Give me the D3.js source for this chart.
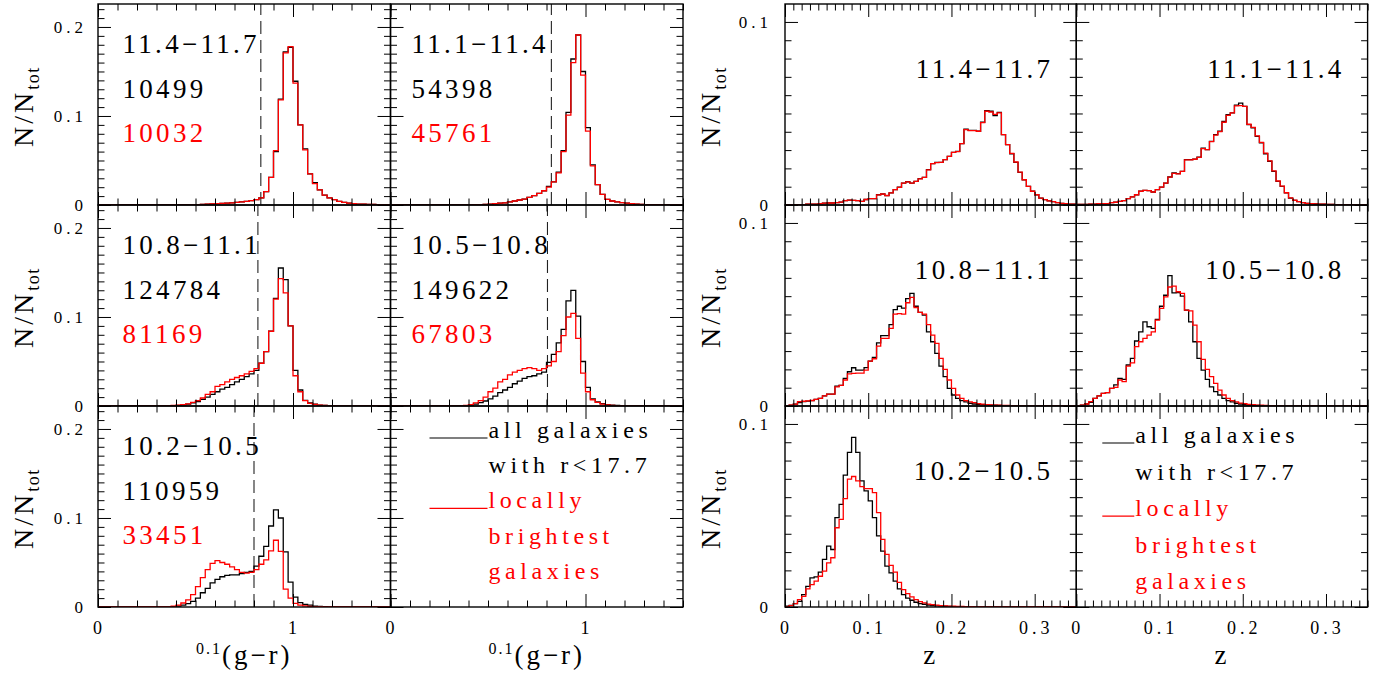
<!DOCTYPE html>
<html>
<head>
<meta charset="utf-8">
<script src="https://cdn.jsdelivr.net/npm/d3@7"></script>
<style>
  body { margin: 0; background: #fff; }
  svg text { font-family: 'Liberation Serif', 'DejaVu Serif', serif; fill: #000; }
</style>
</head>
<body>
<svg id="chart" width="1383" height="684" font-family="'Liberation Serif', 'DejaVu Serif', serif"></svg>
<script>
// mass bins (log M*) and galaxy counts per panel
const massBins = ["11.4\u221211.7", "11.1\u221211.4", "10.8\u221211.1", "10.5\u221210.8", "10.2\u221210.5"];
const nAll = [10499, 54398, 124784, 149622, 110959];
const nLBG = [10032, 45761, 81169, 67803, 33451];
// red/blue colour cut drawn as dashed line
const colourCut = [0.835, 0.825, 0.82, 0.805, 0.80];

// 0.1(g-r) histograms, bins of 0.025 from 0 to 1.5
const grBinWidth = 0.025;
const grAll = [
  [0,0,0,0,0,0,0,0,0,0, 0,0,0,0,0,0,0,0,0,0, 0.0005,0.0008,0.001,0.0012,0.0015,0.0018,0.002,0.0025,0.003,0.0035,
   0.004,0.005,0.006,0.008,0.015,0.031,0.060,0.119,0.172,0.177, 0.139,0.090,0.063,0.035,0.025,0.017,0.011,0.008,0.006,0.004,
   0.003,0.002,0.0015,0.001,0.001,0.0008,0.0006,0.0005,0.0004,0.0003],
  [0,0,0,0,0,0,0,0,0,0, 0,0,0,0,0,0,0,0.0003,0.0005,0.0007, 0.001,0.0015,0.002,0.0025,0.0034,0.0045,0.0056,0.0066,0.0085,0.0105,
   0.013,0.016,0.021,0.026,0.037,0.061,0.104,0.164,0.191,0.150, 0.087,0.045,0.023,0.012,0.0064,0.0045,0.0034,0.0026,0.002,0.0015,
   0.001,0.0007,0.0005,0.0004,0.0003,0.0003,0.0002,0.0002,0.0001,0.0001],
  [0,0,0,0,0,0,0,0,0,0, 0,0,0,0,0.0002,0.0004,0.0007,0.0012,0.002,0.0035, 0.005,0.0075,0.010,0.013,0.016,0.019,0.021,0.024,0.027,0.030,
   0.033,0.036,0.040,0.048,0.061,0.084,0.121,0.155,0.142,0.090, 0.040,0.018,0.0064,0.0034,0.002,0.001,0.0006,0.0004,0.0003,0.0002,
   0.0002,0.0001,0.0001,0.0001,0,0,0,0,0,0],
  [0,0,0,0,0,0,0,0,0,0, 0,0,0,0,0,0.0005,0.001,0.002,0.0037,0.0056, 0.008,0.011,0.015,0.018,0.021,0.025,0.028,0.031,0.033,0.034,
   0.036,0.038,0.049,0.058,0.071,0.086,0.118,0.130,0.101,0.050, 0.021,0.008,0.0045,0.0026,0.0015,0.001,0.0006,0.0004,0.0002,0.0002,
   0.0001,0.0001,0,0,0,0,0,0,0,0],
  [0,0,0,0,0,0,0,0,0,0, 0,0,0,0,0,0.0005,0.001,0.002,0.0037,0.0064, 0.010,0.016,0.021,0.027,0.031,0.034,0.0356,0.036,0.036,0.0375,
   0.039,0.040,0.046,0.057,0.068,0.091,0.109,0.100,0.062,0.028, 0.011,0.005,0.003,0.002,0.001,0.0006,0.0004,0.0002,0.0001,0.0001,
   0,0,0,0,0,0,0,0,0,0]
];
const grLBG = [
  [0,0,0,0,0,0,0,0,0,0, 0,0,0,0,0,0,0,0,0,0, 0.0005,0.0008,0.001,0.0012,0.0015,0.0018,0.002,0.0025,0.003,0.0035,
   0.004,0.005,0.006,0.008,0.015,0.031,0.061,0.118,0.171,0.178, 0.137,0.090,0.062,0.035,0.024,0.017,0.011,0.008,0.006,0.004,
   0.003,0.002,0.0015,0.001,0.001,0.0008,0.0006,0.0005,0.0004,0.0003],
  [0,0,0,0,0,0,0,0,0,0, 0,0,0,0,0,0,0,0.0003,0.0005,0.0007, 0.001,0.0015,0.002,0.0025,0.0034,0.0045,0.0056,0.0066,0.0085,0.0105,
   0.013,0.016,0.020,0.026,0.036,0.060,0.101,0.160,0.191,0.146, 0.083,0.044,0.023,0.012,0.0064,0.0045,0.0034,0.0026,0.002,0.0015,
   0.001,0.0007,0.0005,0.0004,0.0003,0.0003,0.0002,0.0002,0.0001,0.0001],
  [0,0,0,0,0,0,0,0,0,0, 0,0,0,0,0.0003,0.0006,0.001,0.0015,0.0025,0.004, 0.006,0.009,0.013,0.016,0.022,0.024,0.027,0.030,0.032,0.034,
   0.036,0.039,0.042,0.048,0.061,0.084,0.120,0.143,0.127,0.090, 0.034,0.016,0.006,0.003,0.0018,0.001,0.0006,0.0004,0.0003,0.0002,
   0.0002,0.0001,0.0001,0.0001,0,0,0,0,0,0],
  [0,0,0,0,0,0,0,0,0,0, 0,0,0,0,0,0.0006,0.0015,0.0034,0.006,0.010, 0.016,0.020,0.027,0.030,0.035,0.038,0.040,0.042,0.043,0.042,
   0.040,0.042,0.045,0.050,0.061,0.079,0.100,0.104,0.076,0.037, 0.016,0.007,0.004,0.002,0.0012,0.0008,0.0005,0.0003,0.0002,0.0001,
   0.0001,0,0,0,0,0,0,0,0,0],
  [0,0,0,0,0,0,0,0,0,0, 0,0,0,0,0,0.001,0.002,0.0045,0.008,0.014, 0.023,0.033,0.042,0.049,0.052,0.050,0.048,0.045,0.042,0.039,
   0.038,0.039,0.042,0.048,0.053,0.063,0.075,0.0625,0.020,0.010, 0.004,0.002,0.0012,0.0008,0.0005,0.0003,0.0002,0.0001,0.0001,0,
   0,0,0,0,0,0,0,0,0,0]
];

// redshift histograms, bins of 0.005 from 0 to 0.35
const zBinWidth = 0.005;
const zAll = [
  [0,0,0,0.0001,0.0002,0.0004,0.0005,0.0005,0.0007,0.001, 0.0011,0.0011,0.0013,0.0016,0.0024,0.0027,0.0025,0.0024,0.002,0.003,
   0.0035,0.0035,0.0056,0.006,0.0051,0.0066,0.0084,0.0097,0.012,0.0127, 0.012,0.0129,0.0144,0.0151,0.0193,0.0226,0.0233,0.0233,0.0248,0.0266,
   0.0288,0.0293,0.0335,0.0415,0.0408,0.0408,0.0403,0.0452,0.0515,0.0512, 0.0488,0.0506,0.0384,0.033,0.028,0.0233,0.0178,0.0138,0.0102,0.0075,
   0.0056,0.0038,0.0029,0.0022,0.0018,0.0013,0.0009,0.0007,0.0005,0.0004],
  [0.0003,0.0003,0.0003,0.0004,0.0005,0.0007,0.0007,0.0007,0.0013,0.0015, 0.002,0.0024,0.0035,0.0044,0.0056,0.0075,0.008,0.0078,0.0071,0.0084,
   0.0098,0.012,0.0153,0.0175,0.0171,0.0184,0.0248,0.0248,0.0251,0.0262, 0.0311,0.0302,0.0348,0.0384,0.0403,0.0457,0.0494,0.0503,0.0546,0.0556,
   0.0539,0.0439,0.0421,0.0375,0.0339,0.028,0.0239,0.0184,0.0129,0.0102, 0.0066,0.0038,0.0025,0.0018,0.0013,0.0009,0.0007,0.0006,0.0005,0.0004,
   0.0003,0.0003,0.0002,0.0002,0.0002,0.0001,0.0001,0.0001,0.0001,0.0001],
  [0,0.0004,0.001,0.0018,0.0024,0.0027,0.0029,0.0036,0.0042,0.0055, 0.0065,0.0065,0.0109,0.0113,0.0151,0.0187,0.0209,0.0196,0.0196,0.021,
   0.0245,0.0265,0.0345,0.0384,0.0384,0.0445,0.0527,0.0545,0.0535,0.0587, 0.0615,0.0545,0.0511,0.0496,0.0405,0.0351,0.0287,0.0218,0.016,0.0096,
   0.006,0.0042,0.0029,0.0022,0.0015,0.0011,0.0009,0.0007,0.0006,0.0005, 0.0004,0.0003,0.0002,0.0002,0.0001,0.0001,0.0001,0.0001,0.0001,0.0001,
   0,0,0,0,0,0,0,0,0,0],
  [0,0.0004,0.0011,0.002,0.0042,0.0055,0.0069,0.0073,0.0096,0.0115, 0.0151,0.0145,0.0224,0.026,0.0355,0.0405,0.046,0.0433,0.0424,0.0473,
   0.0545,0.0605,0.0712,0.0618,0.062,0.060,0.0524,0.046,0.0351,0.026, 0.0196,0.0145,0.0105,0.0078,0.006,0.0042,0.0029,0.0022,0.0015,0.0011,
   0.0007,0.0005,0.0004,0.0003,0.0002,0.0002,0.0001,0.0001,0.0001,0.0001, 0,0,0,0,0,0,0,0,0,0,
   0,0,0,0,0,0,0,0,0,0],
  [0.0004,0.0009,0.0018,0.0031,0.0068,0.0113,0.0159,0.0165,0.019,0.026, 0.0333,0.0314,0.0488,0.0561,0.072,0.0845,0.0927,0.0845,0.0689,0.0634,
   0.058,0.0488,0.0388,0.0305,0.0223,0.0186,0.0141,0.0099,0.0068,0.0049, 0.0037,0.0026,0.0018,0.0015,0.0011,0.0008,0.0006,0.0005,0.0004,0.0003,
   0.0002,0.0002,0.0001,0.0001,0,0,0,0,0,0, 0,0,0,0,0,0,0,0,0,0,
   0,0,0,0,0,0,0,0,0,0]
];
const zLBG = [
  [0,0,0,0.0001,0.0002,0.0004,0.0005,0.0005,0.0007,0.001, 0.0011,0.0011,0.0013,0.0016,0.0024,0.0027,0.0025,0.0024,0.002,0.003,
   0.0035,0.0035,0.0055,0.006,0.0052,0.0066,0.0084,0.0096,0.012,0.0126, 0.012,0.0129,0.0143,0.0151,0.0192,0.0226,0.0232,0.0233,0.0248,0.0266,
   0.0287,0.0292,0.0335,0.0412,0.0406,0.0406,0.0403,0.045,0.0512,0.0508, 0.0495,0.0503,0.0384,0.033,0.0282,0.0235,0.018,0.0138,0.0102,0.0075,
   0.0056,0.0038,0.0029,0.0022,0.0018,0.0013,0.0009,0.0007,0.0005,0.0004],
  [0.0003,0.0003,0.0003,0.0004,0.0005,0.0007,0.0007,0.0007,0.0013,0.0015, 0.002,0.0024,0.0035,0.0044,0.0056,0.0075,0.008,0.0078,0.0071,0.0084,
   0.0098,0.012,0.0152,0.0173,0.017,0.0184,0.0246,0.0246,0.025,0.026, 0.0308,0.0302,0.0346,0.0382,0.0401,0.0452,0.049,0.0503,0.0542,0.0543,
   0.0539,0.0441,0.0424,0.0378,0.0342,0.0283,0.0241,0.0186,0.0131,0.0103, 0.0067,0.0039,0.0026,0.0018,0.0013,0.0009,0.0007,0.0006,0.0005,0.0004,
   0.0003,0.0003,0.0002,0.0002,0.0002,0.0001,0.0001,0.0001,0.0001,0.0001],
  [0,0.0004,0.001,0.0024,0.0026,0.0028,0.003,0.0036,0.0042,0.0055, 0.0065,0.0065,0.0105,0.0113,0.0142,0.0175,0.0178,0.018,0.018,0.0196,
   0.0245,0.0258,0.0327,0.0369,0.0369,0.0424,0.0502,0.0505,0.0502,0.0564, 0.0593,0.0538,0.0511,0.0502,0.0445,0.0387,0.0342,0.026,0.020,0.0142,
   0.0096,0.006,0.0042,0.0029,0.0022,0.0018,0.0013,0.001,0.0008,0.0006, 0.0005,0.0004,0.0003,0.0003,0.0002,0.0002,0.0001,0.0001,0.0001,0.0001,
   0.0001,0.0001,0,0,0,0,0,0,0,0],
  [0,0.0004,0.0011,0.0024,0.0042,0.0055,0.0069,0.0073,0.0096,0.0102, 0.0142,0.0133,0.0218,0.0236,0.0324,0.0351,0.0369,0.0387,0.0405,0.0469,
   0.0533,0.0596,0.065,0.0655,0.0624,0.0615,0.0524,0.052,0.0442,0.0351, 0.0255,0.020,0.016,0.0124,0.0087,0.006,0.0042,0.0029,0.0022,0.0016,
   0.0013,0.0009,0.0007,0.0005,0.0004,0.0003,0.0002,0.0002,0.0001,0.0001, 0.0001,0.0001,0,0,0,0,0,0,0,0,
   0,0,0,0,0,0,0,0,0,0],
  [0.0002,0.0007,0.0018,0.004,0.0058,0.0099,0.0122,0.0141,0.0168,0.0196, 0.0241,0.0269,0.0433,0.0479,0.0592,0.0698,0.0713,0.0689,0.0658,0.0647,
   0.0647,0.0625,0.0516,0.0369,0.0287,0.0227,0.019,0.0135,0.0095,0.0073, 0.0055,0.004,0.0029,0.0022,0.0016,0.0013,0.001,0.0008,0.0006,0.0005,
   0.0004,0.0003,0.0003,0.0002,0.0002,0.0001,0.0001,0.0001,0.0001,0.0001, 0,0,0,0,0,0,0,0,0,0,
   0,0,0,0,0,0,0,0,0,0]
];

// legend text
const legendAll = ["all galaxies", "with r<17.7"];
const legendLBG = ["locally", "brightest", "galaxies"];

const svg = d3.select("#chart");
const plotTop = 4, rowH = 201;

const groups = [
  { left: 98, colW: 292.5, xDomain: [0, 1.5], yMax: 0.2258, binW: grBinWidth, all: grAll, lbg: grLBG,
    xMinor: 0.1, xMajor: 1, yMinor: 0.01, yMajor: 0.1,
    xLabels: [0, 1], yLabels: [0, 0.1, 0.2], yLabelX: 87 },
  { left: 785, colW: 291.3, xDomain: [0, 0.35], yMax: 0.1098, binW: zBinWidth, all: zAll, lbg: zLBG,
    xMinor: 0.01, xMajor: 0.1, yMinor: 0.01, yMajor: 0.1,
    xLabels: [0, 0.1, 0.2, 0.3], yLabels: [0, 0.1], yLabelX: 772 }
];

const minorLen = 6.5, majorLen = 13;
const fmt = d => d === 0 ? "0" : String(+d.toFixed(2));

function stepValues(lo, hi, step) {
  const n = Math.floor((hi - lo) / step + 1e-6);
  return d3.range(n + 1).map(i => +(lo + i * step).toFixed(6));
}

// draws inward ticks on all four sides with d3 axes
function drawTicks(g, x, y, grp) {
  const [x0, x1] = x.range();
  const [yb, yt] = y.range();
  const xs = stepValues(0, grp.xDomain[1], grp.xMinor);
  const ys = stepValues(0, grp.yMax, grp.yMinor);
  const isMajor = (v, m) => Math.abs(v / m - Math.round(v / m)) < 1e-6;
  const sets = [
    [d3.axisBottom, `translate(0,${yb})`, x, xs, grp.xMajor],
    [d3.axisTop, `translate(0,${yt})`, x, xs, grp.xMajor],
    [d3.axisLeft, `translate(${x0},0)`, y, ys, grp.yMajor],
    [d3.axisRight, `translate(${x1},0)`, y, ys, grp.yMajor]
  ];
  sets.forEach(([axisFn, tr, sc, vals, maj]) => {
    [[vals.filter(v => !isMajor(v, maj)), minorLen], [vals.filter(v => isMajor(v, maj)), majorLen]].forEach(([tv, len]) => {
      const a = g.append("g").attr("transform", tr)
        .call(axisFn(sc).tickValues(tv).tickSize(-len).tickFormat(""));
      a.select(".domain").remove();
      a.selectAll("line").attr("stroke", "#000").attr("stroke-width", 1);
    });
  });
}

const line = d3.line().curve(d3.curveStepAfter);

groups.forEach((grp, gi) => {
  for (let p = 0; p < 6; p++) {
    const row = Math.floor(p / 2), col = p % 2;
    const px0 = grp.left + col * grp.colW;
    const x = d3.scaleLinear().domain(grp.xDomain).range([px0, px0 + grp.colW]);
    const y = d3.scaleLinear().domain([0, grp.yMax]).range([plotTop + (row + 1) * rowH, plotTop + row * rowH]);
    const g = svg.append("g");
    const clipId = `clip-${gi}-${p}`;
    svg.append("clipPath").attr("id", clipId)
      .append("rect").attr("x", px0).attr("y", plotTop + row * rowH).attr("width", grp.colW).attr("height", rowH);

    if (p < 5) {
      const hg = g.append("g").attr("clip-path", `url(#${clipId})`);
      if (gi === 0) {
        hg.append("line")
          .attr("x1", x(colourCut[p])).attr("x2", x(colourCut[p]))
          .attr("y1", y.range()[0]).attr("y2", y.range()[1])
          .attr("stroke", "#222").attr("stroke-width", 1.1).attr("stroke-dasharray", "13,6");
      }
      [[grp.all[p], "#000"], [grp.lbg[p], "#ff0000"]].forEach(([vals, c]) => {
        const pts = vals.map((v, i) => [x(i * grp.binW), y(v)]);
        pts.push([x(vals.length * grp.binW), y(vals[vals.length - 1])]);
        hg.append("path").attr("d", line(pts)).attr("fill", "none")
          .attr("stroke", c).attr("stroke-width", 1.3);
      });

      if (gi === 0) {
        const tx = px0 + (col === 0 ? 24.5 : 21);
        const ty = plotTop + row * rowH;
        [[massBins[p], "#000", 49], [nAll[p], "#000", 94], [nLBG[p], "#ff0000", 138]].forEach(([t, c, dy]) => {
          g.append("text").attr("x", tx).attr("y", ty + dy)
            .attr("font-size", 27).attr("letter-spacing", 3.3).style("fill", c).text(t);
        });
      } else {
        g.append("text").attr("x", px0 + grp.colW - 23).attr("y", plotTop + row * rowH + 74)
          .attr("text-anchor", "end").attr("font-size", 27).attr("letter-spacing", 3.3).text(massBins[p]);
      }
    } else {
      // legend panel
      const ty = plotTop + row * rowH;
      const lg = gi === 0 ? { l0: 39, l1: 97, base: 32, step: 35.2 } : { l0: 26, l1: 58, base: 37, step: 36.6 };
      g.append("line").attr("x1", px0 + lg.l0).attr("x2", px0 + lg.l1)
        .attr("y1", ty + lg.base).attr("y2", ty + lg.base).attr("stroke", "#000").attr("stroke-width", 1.2);
      g.append("line").attr("x1", px0 + lg.l0).attr("x2", px0 + lg.l1)
        .attr("y1", ty + lg.base + 2 * lg.step).attr("y2", ty + lg.base + 2 * lg.step)
        .attr("stroke", "#ff0000").attr("stroke-width", 1.2);
      legendAll.concat(legendLBG).forEach((t, i) => {
        g.append("text").attr("x", px0 + lg.l1 + 1).attr("y", ty + lg.base + i * lg.step)
          .attr("font-size", 24).attr("letter-spacing", 4.6)
          .style("fill", i < 2 ? "#000" : "#ff0000").text(t);
      });
    }

    drawTicks(g, x, y, grp);
    g.append("rect").attr("x", px0).attr("y", plotTop + row * rowH).attr("width", grp.colW).attr("height", rowH)
      .attr("fill", "none").attr("stroke", "#000").attr("stroke-width", 1.4);

    // y tick labels, left column only
    if (col === 0) {
      grp.yLabels.forEach(v => {
        g.append("text").attr("x", grp.yLabelX).attr("y", y(v)).attr("dy", "0.35em")
          .attr("text-anchor", "end").attr("font-size", 17).attr("letter-spacing", 4).text(fmt(v));
      });
      // y title N/N_tot
      const yt = g.append("text")
        .attr("transform", `translate(${grp.left - 65},${plotTop + row * rowH + rowH / 2 + 2}) rotate(-90)`)
        .attr("text-anchor", "middle").attr("font-size", 28).attr("letter-spacing", 3);
      yt.append("tspan").text("N/N");
      yt.append("tspan").attr("font-size", 18).attr("dy", 6).attr("letter-spacing", 1.5).text("tot");
    }
    // x tick labels and title, bottom row
    if (row === 2) {
      grp.xLabels.forEach(v => {
        g.append("text").attr("x", x(v) + 1.5).attr("y", 634)
          .attr("text-anchor", "middle").attr("font-size", 18).attr("letter-spacing", 4).text(fmt(v));
      });
      const xt = g.append("text").attr("x", px0 + grp.colW / 2).attr("y", 664)
        .attr("text-anchor", "middle").attr("font-size", 27).attr("letter-spacing", 3);
      if (gi === 0) {
        xt.append("tspan").attr("font-size", 16).attr("dy", -10).attr("letter-spacing", 2).text("0.1");
        xt.append("tspan").attr("dy", 10).text("(g\u2212r)");
      } else {
        xt.text("z");
      }
    }
  }
});
</script>
</body>
</html>
